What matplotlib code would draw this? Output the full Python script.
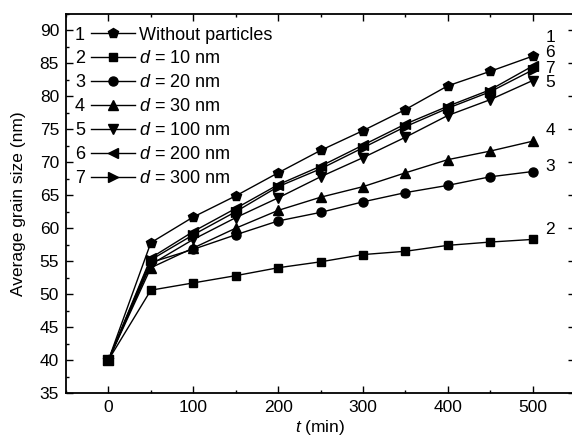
import matplotlib
matplotlib.use("Agg")
import matplotlib.pyplot as plt
from matplotlib.ticker import MultipleLocator

plt.rcParams['font.family'] = ['Liberation Sans', 'DejaVu Sans']
plt.rcParams['mathtext.fontset'] = 'custom'
plt.rcParams['mathtext.rm'] = 'Liberation Sans'
plt.rcParams['mathtext.it'] = 'Liberation Sans:italic'

# Data
t = [0, 50, 100, 150, 200, 250, 300, 350, 400, 450, 500]
s1_without = [40, 57.8, 61.7, 64.9, 68.4, 71.8, 74.8, 78.0, 81.6, 83.8, 86.1]
s2_10nm = [40, 50.6, 51.7, 52.8, 54.0, 54.9, 56.0, 56.5, 57.4, 57.9, 58.3]
s3_20nm = [40, 54.8, 56.8, 59.0, 61.1, 62.4, 64.0, 65.4, 66.5, 67.8, 68.6]
s4_30nm = [40, 54.0, 57.0, 60.0, 62.7, 64.7, 66.3, 68.4, 70.4, 71.7, 73.2]
s5_100nm = [40, 54.5, 58.3, 61.6, 64.6, 67.8, 70.7, 73.8, 77.1, 79.5, 82.4]
s6_200nm = [40, 55.5, 59.5, 63.0, 66.6, 69.4, 72.6, 75.8, 78.5, 81.0, 84.6]
s7_300nm = [40, 55.2, 59.0, 62.5, 66.3, 69.0, 72.2, 75.4, 78.2, 80.7, 84.0]

series = [s1_without, s2_10nm, s3_20nm, s4_30nm, s5_100nm, s6_200nm, s7_300nm]
numbers = ['1', '2', '3', '4', '5', '6', '7']
labels = ['Without particles', '$d$ = 10 nm', '$d$ = 20 nm', '$d$ = 30 nm',
          '$d$ = 100 nm', '$d$ = 200 nm', '$d$ = 300 nm']
markers = ['p', 's', 'o', '^', 'v', '<', '>']
msizes = [7.5, 6, 6.5, 6.5, 6.5, 6.5, 6.5]

# End labels (number, y-position)
end_label_nums = ['1', '6', '7', '5', '4', '3', '2']
end_label_y = [89.0, 86.6, 84.3, 82.1, 74.8, 69.3, 59.8]

FS = 12.5

fig = plt.figure(figsize=(5.72, 4.40), dpi=100)
ax = fig.add_axes([66/572, 47/440, (575-66)/572, (393-14)/440])

handles = []
for y, m, ms, lab in zip(series, markers, msizes, labels):
    h, = ax.plot(t, y, color='black', marker=m, markersize=ms, linewidth=1.0,
                 markerfacecolor='black', markeredgecolor='black', label=lab)
    handles.append(h)

ax.set_xlim(-50, 550)
ax.set_ylim(35, 92.5)
ax.xaxis.set_major_locator(MultipleLocator(100))
ax.xaxis.set_minor_locator(MultipleLocator(50))
ax.yaxis.set_major_locator(MultipleLocator(5))
ax.yaxis.set_minor_locator(MultipleLocator(2.5))
ax.tick_params(which='both', direction='in', top=True, right=True, width=1.0,
               labelsize=FS)
ax.tick_params(which='major', length=5, pad=5)
ax.tick_params(which='minor', length=2.5)
for sp in ax.spines.values():
    sp.set_linewidth(1.3)

ax.set_xlabel('$t$ (min)', fontsize=FS, labelpad=2)
ax.set_ylabel('Average grain size (nm)', fontsize=FS, labelpad=10)

leg = ax.legend(handles=handles, loc='upper left', bbox_to_anchor=(25/509, 1 - 12.5/379),
                frameon=False, fontsize=13, handlelength=2.45, handletextpad=0.22,
                labelspacing=0.385, borderpad=0, borderaxespad=0)

fig.canvas.draw()
inv = ax.transAxes.inverted()
for txt, num in zip(leg.get_texts(), numbers):
    bb = txt.get_window_extent()
    yc = (bb.y0 + bb.y1) / 2
    xa, ya = inv.transform((0, yc))
    ax.text(14/509, ya, num, transform=ax.transAxes, fontsize=13,
            ha='center', va='center')

for num, yv in zip(end_label_nums, end_label_y):
    ax.text(521, yv, num, fontsize=FS, ha='center', va='center')

fig.savefig('out.png', dpi=100)
